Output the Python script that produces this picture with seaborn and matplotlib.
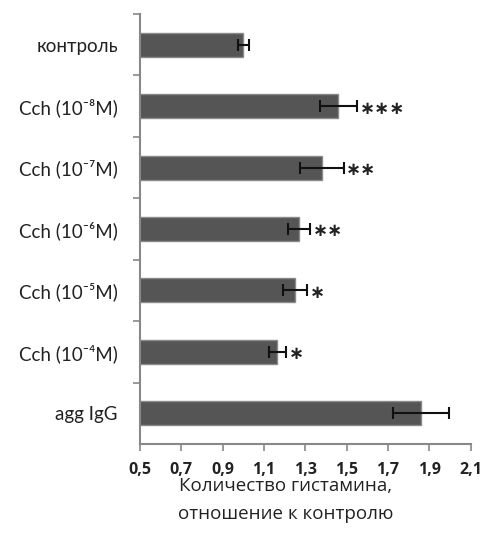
import matplotlib
matplotlib.use("Agg")
import matplotlib.pyplot as plt
import seaborn as sns
import pandas as pd
import numpy as np

categories = ["контроль", "Cch (10⁻⁸M)", "Cch (10⁻⁷M)", "Cch (10⁻⁶M)",
              "Cch (10⁻⁵M)", "Cch (10⁻⁴M)", "agg IgG"]
values = [1.00, 1.46, 1.38, 1.27, 1.25, 1.165, 1.86]
errors = [0.025, 0.09, 0.105, 0.052, 0.06, 0.043, 0.135]
stars = ["", "***", "**", "**", "*", "*", ""]
xticks = [0.5, 0.7, 0.9, 1.1, 1.3, 1.5, 1.7, 1.9, 2.1]
xticklabels = ["0,5", "0,7", "0,9", "1,1", "1,3", "1,5", "1,7", "1,9", "2,1"]
xlabel = "Количество гистамина,\nотношение к контролю"

sns.set_style("white")
plt.rcParams["font.family"] = ["Open Sans", "DejaVu Sans"]

df = pd.DataFrame({"cat": categories, "val": values})

fig = plt.figure(figsize=(4.85, 5.41), dpi=100)
ax = fig.add_axes([140/485, (541-444)/541, (470.7-140)/485, (444-14)/541])

sns.barplot(data=df, x="val", y="cat", orient="h", color="#555555",
            edgecolor="#8a8a8a", linewidth=1.0, width=0.39, ax=ax,
            saturation=1)
ypos = np.arange(len(categories))
ax.errorbar(values, ypos, xerr=errors, fmt="none", ecolor="#111111",
            elinewidth=1.5, capsize=4.5, capthick=1.5, zorder=5)
for y, v, e, s in zip(ypos, values, errors, stars):
    if s:
        ax.text(v + e + 0.012, y + 0.04, s.replace("*", "∗"), ha="left",
                va="center", fontsize=13, fontweight="bold", color="#222222",
                family=["DejaVu Sans"])

ax.set_xlim(0.5, 2.1)
ax.set_ylim(6.5, -0.5)
ax.set_xticks(xticks)
ax.set_xticklabels(xticklabels, fontsize=11.5, fontweight="bold", color="#222222")
ax.set_yticks(ypos)
ax.set_yticklabels(categories, fontsize=13.5, color="#222222",
                   family=["Lato", "Open Sans", "DejaVu Sans"])
ax.set_yticks(np.arange(-0.5, 6.5, 1.0), minor=True)
ax.tick_params(axis="y", which="major", length=0, pad=16, left=True)
ax.tick_params(axis="y", which="minor", length=5, width=1.2, color="#888888",
               direction="out", left=True)
ax.tick_params(axis="x", which="major", length=5, width=1.2, color="#888888",
               direction="out", pad=8, bottom=True)
ax.set_ylabel("")
ax.set_xlabel(xlabel, fontsize=13.5, color="#222222", linespacing=1.75)
ax.xaxis.set_label_coords(0.44, -0.076, transform=ax.transAxes)
ax.xaxis.label.set_va("top")

for side in ["top", "right"]:
    ax.spines[side].set_visible(False)
for side in ["left", "bottom"]:
    ax.spines[side].set_color("#888888")
    ax.spines[side].set_linewidth(1.5)

fig.savefig("out.png", dpi=100, facecolor="white")
